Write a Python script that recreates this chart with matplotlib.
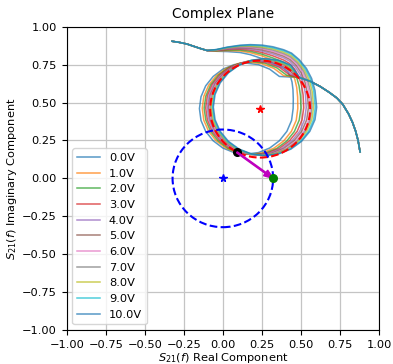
import matplotlib
matplotlib.use('Agg')
import matplotlib.pyplot as plt

labels = ['0.0V', '1.0V', '2.0V', '3.0V', '4.0V', '5.0V',
          '6.0V', '7.0V', '8.0V', '9.0V', '10.0V']

# common trace before the resonance (same for every bias)
start_x = [-0.325, -0.28, -0.23, -0.187, -0.14, -0.10]
start_y = [0.904, 0.897, 0.886, 0.871, 0.855, 0.843]
# common trace after the resonance
exit_x = [0.49, 0.56, 0.623, 0.68, 0.73, 0.768, 0.805, 0.83, 0.85, 0.866, 0.876, 0.879]
exit_y = [0.665, 0.64, 0.606, 0.568, 0.53, 0.488, 0.425, 0.37, 0.312, 0.25, 0.19, 0.175]

band_x = [-0.04, 0.03, 0.11, 0.175, 0.25, 0.32, 0.39]

# resonance part of every trace (band, turn, loop)
x0 = band_x + [0.415, 0.432, 0.443, 0.449, 0.451,
               0.450, 0.440, 0.410, 0.362, 0.300, 0.228, 0.150, 0.072, 0.000, -0.062, -0.110, -0.140, -0.150, -0.140, -0.110, -0.062, 0.000, 0.072, 0.150, 0.228, 0.300, 0.362]
y0 = [0.838, 0.836, 0.830, 0.816, 0.790, 0.758, 0.725, 0.703, 0.675, 0.635, 0.585, 0.525,
      0.460, 0.382, 0.310, 0.248, 0.200, 0.170, 0.160, 0.170, 0.200, 0.248, 0.310, 0.382, 0.460, 0.538, 0.610, 0.672, 0.720, 0.750, 0.760, 0.750, 0.720, 0.672]
x1 = band_x + [0.420, 0.444, 0.461, 0.473, 0.479,
               0.480, 0.470, 0.439, 0.390, 0.327, 0.253, 0.174, 0.095, 0.021, -0.042, -0.091, -0.122, -0.132, -0.122, -0.091, -0.042, 0.021, 0.095, 0.174, 0.253, 0.327, 0.390]
y1 = [0.840, 0.842, 0.840, 0.829, 0.808, 0.780, 0.750, 0.728, 0.696, 0.653, 0.600, 0.536,
      0.462, 0.383, 0.310, 0.247, 0.199, 0.168, 0.158, 0.168, 0.199, 0.247, 0.310, 0.383, 0.462, 0.541, 0.614, 0.677, 0.725, 0.756, 0.766, 0.756, 0.725, 0.677]
x2 = band_x + [0.423, 0.451, 0.473, 0.488, 0.497,
               0.500, 0.489, 0.458, 0.409, 0.345, 0.270, 0.190, 0.110, 0.035, -0.029, -0.078, -0.109, -0.120, -0.109, -0.078, -0.029, 0.035, 0.110, 0.190, 0.270, 0.345, 0.409]
y2 = [0.842, 0.846, 0.846, 0.838, 0.819, 0.794, 0.766, 0.744, 0.710, 0.665, 0.610, 0.543,
      0.463, 0.384, 0.309, 0.246, 0.197, 0.166, 0.156, 0.166, 0.197, 0.246, 0.309, 0.384, 0.463, 0.542, 0.617, 0.680, 0.729, 0.760, 0.770, 0.760, 0.729, 0.680]
x3 = band_x + [0.426, 0.458, 0.484, 0.503, 0.514,
               0.518, 0.507, 0.476, 0.426, 0.361, 0.285, 0.204, 0.123, 0.047, -0.018, -0.068, -0.099, -0.110, -0.099, -0.068, -0.018, 0.047, 0.123, 0.204, 0.285, 0.361, 0.426]
y3 = [0.843, 0.850, 0.852, 0.846, 0.830, 0.808, 0.780, 0.758, 0.723, 0.676, 0.619, 0.550,
      0.465, 0.385, 0.310, 0.247, 0.197, 0.167, 0.156, 0.167, 0.197, 0.247, 0.310, 0.385, 0.465, 0.545, 0.620, 0.683, 0.733, 0.763, 0.774, 0.763, 0.733, 0.683]
x4 = band_x + [0.429, 0.464, 0.495, 0.516, 0.529,
               0.534, 0.523, 0.492, 0.441, 0.376, 0.299, 0.217, 0.135, 0.058, -0.007, -0.058, -0.089, -0.100, -0.089, -0.058, -0.007, 0.058, 0.135, 0.217, 0.299, 0.376, 0.441]
y4 = [0.845, 0.853, 0.857, 0.853, 0.840, 0.820, 0.794, 0.772, 0.735, 0.685, 0.627, 0.556,
      0.466, 0.386, 0.310, 0.246, 0.197, 0.166, 0.155, 0.166, 0.197, 0.246, 0.310, 0.386, 0.466, 0.546, 0.622, 0.686, 0.735, 0.766, 0.777, 0.766, 0.735, 0.686]
x5 = band_x + [0.431, 0.470, 0.503, 0.526, 0.541,
               0.548, 0.537, 0.505, 0.454, 0.388, 0.311, 0.228, 0.145, 0.068, 0.002, -0.049, -0.081, -0.092, -0.081, -0.049, 0.002, 0.068, 0.145, 0.228, 0.311, 0.388]
y5 = [0.846, 0.856, 0.861, 0.859, 0.848, 0.830, 0.805, 0.783, 0.745, 0.694, 0.634, 0.561,
      0.467, 0.386, 0.310, 0.246, 0.196, 0.165, 0.154, 0.165, 0.196, 0.246, 0.310, 0.386, 0.467, 0.548, 0.624, 0.688, 0.738, 0.769, 0.780, 0.769, 0.738]
x6 = band_x + [0.433, 0.474, 0.510, 0.536, 0.552,
               0.561, 0.550, 0.518, 0.466, 0.400, 0.322, 0.238, 0.154, 0.076, 0.010, -0.042, -0.074, -0.085, -0.074, -0.042, 0.010, 0.076, 0.154, 0.238, 0.322, 0.400]
y6 = [0.847, 0.858, 0.865, 0.864, 0.855, 0.838, 0.815, 0.793, 0.753, 0.701, 0.640, 0.565,
      0.467, 0.385, 0.309, 0.244, 0.194, 0.163, 0.152, 0.163, 0.194, 0.244, 0.309, 0.385, 0.467, 0.549, 0.625, 0.690, 0.740, 0.771, 0.782, 0.771, 0.740]
x7 = band_x + [0.435, 0.478, 0.517, 0.544, 0.562,
               0.571, 0.560, 0.527, 0.476, 0.409, 0.330, 0.246, 0.162, 0.083, 0.016, -0.035, -0.068, -0.079, -0.068, -0.035, 0.016, 0.083, 0.162, 0.246, 0.330, 0.409]
y7 = [0.848, 0.860, 0.868, 0.869, 0.861, 0.846, 0.823, 0.801, 0.761, 0.707, 0.645, 0.569,
      0.468, 0.386, 0.310, 0.245, 0.194, 0.163, 0.152, 0.163, 0.194, 0.245, 0.310, 0.386, 0.468, 0.550, 0.626, 0.691, 0.742, 0.773, 0.784, 0.773, 0.742]
x8 = band_x + [0.437, 0.482, 0.523, 0.553, 0.572,
               0.581, 0.570, 0.537, 0.485, 0.418, 0.339, 0.254, 0.169, 0.090, 0.023, -0.029, -0.062, -0.073, -0.062, -0.029, 0.023, 0.090, 0.169, 0.254, 0.339, 0.418]
y8 = [0.848, 0.862, 0.872, 0.873, 0.867, 0.854, 0.832, 0.810, 0.768, 0.713, 0.650, 0.573,
      0.469, 0.387, 0.310, 0.245, 0.194, 0.163, 0.152, 0.163, 0.194, 0.245, 0.310, 0.387, 0.469, 0.551, 0.628, 0.693, 0.744, 0.775, 0.786, 0.775, 0.744]
x9 = band_x + [0.439, 0.487, 0.529, 0.561, 0.582,
               0.592, 0.581, 0.548, 0.496, 0.428, 0.348, 0.263, 0.178, 0.098, 0.030, -0.022, -0.055, -0.066, -0.055, -0.022, 0.030, 0.098, 0.178, 0.263, 0.348, 0.428]
y9 = [0.849, 0.864, 0.875, 0.878, 0.874, 0.861, 0.841, 0.819, 0.776, 0.720, 0.656, 0.577,
      0.469, 0.386, 0.309, 0.243, 0.193, 0.161, 0.150, 0.161, 0.193, 0.243, 0.309, 0.386, 0.469, 0.552, 0.629, 0.695, 0.745, 0.777, 0.788, 0.777, 0.745]
x10 = band_x + [0.440, 0.490, 0.535, 0.568, 0.590,
                0.601, 0.590, 0.557, 0.504, 0.436, 0.356, 0.270, 0.184, 0.104, 0.036, -0.017, -0.050, -0.061, -0.050, -0.017, 0.036, 0.104, 0.184, 0.270, 0.356, 0.436]
y10 = [0.850, 0.866, 0.878, 0.882, 0.879, 0.868, 0.848, 0.826, 0.782, 0.725, 0.660, 0.580,
       0.470, 0.387, 0.310, 0.244, 0.193, 0.161, 0.150, 0.161, 0.193, 0.244, 0.310, 0.387, 0.470, 0.553, 0.630, 0.696, 0.747, 0.779, 0.790, 0.779, 0.747]

mid_x = [x0, x1, x2, x3, x4, x5, x6, x7, x8, x9, x10]
mid_y = [y0, y1, y2, y3, y4, y5, y6, y7, y8, y9, y10]

# fitted circle and points
fit_center = (0.239, 0.457)
fit_radius = 0.32
ref_center = (0.0, 0.0)
ref_radius = 0.322
res_point = (0.09, 0.172)
rot_point = (0.322, 0.0)

fs = 8.2
fig = plt.figure(figsize=(3.93, 3.64), dpi=100)
ax = fig.add_axes([0.1697, 0.0934, 0.7947, 0.8332])

for i in range(len(labels)):
    ax.plot(start_x + mid_x[i] + exit_x, start_y + mid_y[i] + exit_y,
            lw=1.1, alpha=0.75, label=labels[i])

ax.add_patch(plt.Circle(fit_center, fit_radius, fill=False, color='r', ls='--', lw=1.5, zorder=3))
ax.plot(fit_center[0], fit_center[1], 'r*', ms=5.5, zorder=3)
ax.add_patch(plt.Circle(ref_center, ref_radius, fill=False, color='b', ls='--', lw=1.5, zorder=3))
ax.plot(ref_center[0], ref_center[1], 'b*', ms=5.5, zorder=3)
ax.plot(res_point[0], res_point[1], 'ko', ms=5.5, zorder=4)
ax.arrow(res_point[0], res_point[1], rot_point[0] - res_point[0], rot_point[1] - res_point[1],
         width=0.008, head_width=0.045, head_length=0.06, length_includes_head=True,
         color='m', zorder=4)
ax.plot(rot_point[0], rot_point[1], 'go', ms=5.5, zorder=5)

ax.set_xlim(-1, 1)
ax.set_ylim(-1, 1)
ticks = [-1.0, -0.75, -0.5, -0.25, 0.0, 0.25, 0.5, 0.75, 1.0]
ax.set_xticks(ticks)
ax.set_yticks(ticks)
ax.set_xticklabels(['\u2212%.2f' % -t if t < 0 else '%.2f' % t for t in ticks], fontsize=fs)
ax.set_yticklabels(['\u2212%.2f' % -t if t < 0 else '%.2f' % t for t in ticks], fontsize=fs)
ax.grid(True, color='#c4c4c4', lw=0.9)
ax.set_axisbelow(True)
ax.set_title('Complex Plane', fontsize=9.8)
ax.set_xlabel('$S_{21}(f)$ Real Component', fontsize=fs, labelpad=1)
ax.set_ylabel('$S_{21}(f)$ Imaginary Component', fontsize=fs, labelpad=2)
ax.legend(loc='lower left', fontsize=fs)

fig.savefig('out.png', dpi=100)
